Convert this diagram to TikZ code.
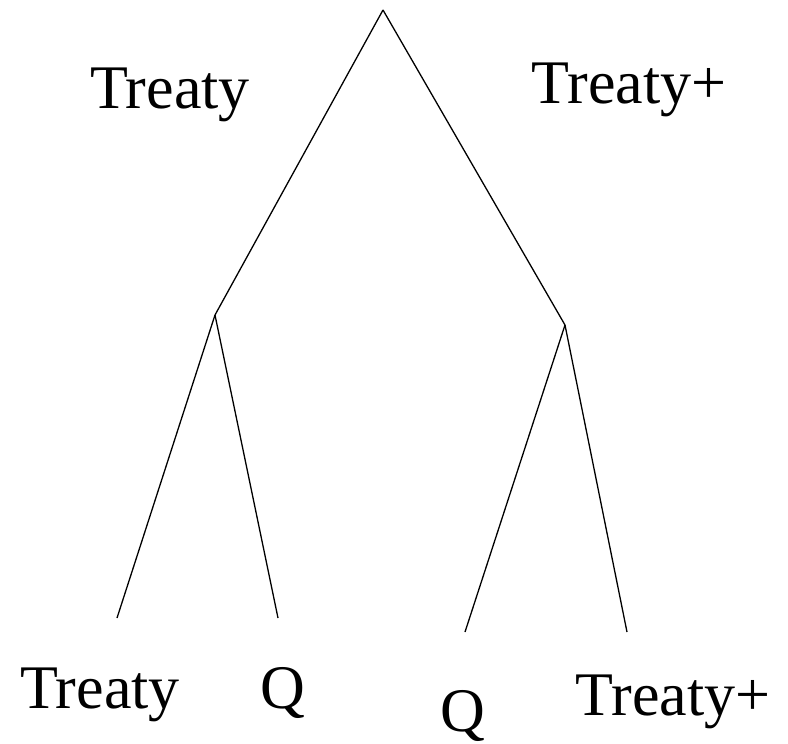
\documentclass[tikz,border=0pt]{standalone}
\usepackage{fontspec}
\setmainfont{Liberation Serif}
\begin{document}
\begin{tikzpicture}[x=1pt,y=-1pt,
  branch/.style={line width=1.3pt},
  lbl/.style={font=\fontsize{62}{66}\selectfont, inner sep=0pt, anchor=base}]
\useasboundingbox (0,0) rectangle (788,744);
\coordinate (top) at (383,10);
\coordinate (lm) at (215,315);
\coordinate (rm) at (565,325);
\coordinate (l1) at (117,618);
\coordinate (l2) at (278,618);
\coordinate (r1) at (465,632);
\coordinate (r2) at (627,632);
\draw[branch] (top) -- (lm);
\draw[branch] (top) -- (rm);
\draw[branch] (lm) -- (l1);
\draw[branch] (lm) -- (l2);
\draw[branch] (rm) -- (r1);
\draw[branch] (rm) -- (r2);
\node[lbl] (t1) at (170,108) {Treaty};
\node[lbl] (t2) at (629,103) {Treaty+};
\node[lbl] (b1) at (100,708) {Treaty};
\node[lbl] (b2) at (283,708) {Q};
\node[lbl] (b3) at (463,731) {Q};
\node[lbl] (b4) at (673,715) {Treaty+};
\end{tikzpicture}
\end{document}
